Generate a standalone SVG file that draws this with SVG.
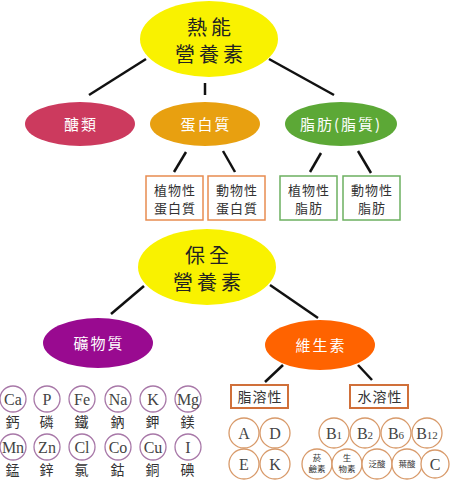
<svg xmlns="http://www.w3.org/2000/svg" width="450" height="480" viewBox="0 0 450 480">
<style>
.cjk{font-family:"Noto Sans CJK TC","Noto Sans CJK SC",sans-serif}
.big{font-size:20px;fill:#222;letter-spacing:4px}
.mid{font-size:15px;fill:#fff;letter-spacing:2px}
.sm{font-size:13px;fill:#333;letter-spacing:1px}
.lbl{font-size:14px;fill:#333;letter-spacing:1px}
.el{font-family:"Liberation Serif",serif;font-size:16px;fill:#444}
.min{fill:#fff;stroke:#a878a8;stroke-width:1.3}
.vit{fill:#fff;stroke:#d89a6a;stroke-width:1.3}
.line{stroke:#111;stroke-width:2.5;fill:none}
.tiny{font-size:8.5px;fill:#333}
</style>
<rect width="450" height="480" fill="#fff"/>
<g id="connectors" class="line">
<line x1="146" y1="59" x2="89" y2="95"/>
<line x1="205" y1="83" x2="205" y2="95"/>
<line x1="269" y1="59" x2="334" y2="95"/>
<line x1="186" y1="152" x2="174" y2="172"/>
<line x1="223" y1="151" x2="235" y2="172"/>
<line x1="321" y1="153" x2="310" y2="172"/>
<line x1="358" y1="151" x2="371" y2="173"/>
<line x1="144" y1="286" x2="111" y2="314"/>
<line x1="270" y1="285" x2="318" y2="318"/>
<line x1="283" y1="365" x2="265" y2="382"/>
<line x1="358" y1="365" x2="372" y2="380"/>
</g>
<g id="energy">
<ellipse cx="209" cy="39" rx="69" ry="38" fill="#f9f200"/>
<text class="cjk big" x="211" y="35" text-anchor="middle">熱能</text>
<text class="cjk big" x="211" y="62" text-anchor="middle">營養素</text>
</g>
<g id="carb">
<ellipse cx="80" cy="124" rx="55" ry="22" fill="#cc3a5e"/>
<text class="cjk mid" x="81" y="130" text-anchor="middle">醣類</text>
</g>
<g id="protein">
<ellipse cx="205" cy="124" rx="55" ry="22" fill="#e8a010"/>
<text class="cjk mid" x="206" y="130" text-anchor="middle">蛋白質</text>
</g>
<g id="fat">
<ellipse cx="341" cy="124" rx="56" ry="22" fill="#5ca836"/>
<text class="cjk mid" x="341" y="130" text-anchor="middle" letter-spacing="1">脂肪(脂質)</text>
</g>
<g id="plant-protein">
<rect x="146" y="176" width="57" height="44" fill="#fff" stroke="#e88c50" stroke-width="1.5"/>
<text class="cjk sm" x="175" y="195" text-anchor="middle">植物性</text>
<text class="cjk sm" x="175" y="213" text-anchor="middle">蛋白質</text>
</g>
<g id="animal-protein">
<rect x="208" y="176" width="57" height="44" fill="#fff" stroke="#e88c50" stroke-width="1.5"/>
<text class="cjk sm" x="237" y="195" text-anchor="middle">動物性</text>
<text class="cjk sm" x="237" y="213" text-anchor="middle">蛋白質</text>
</g>
<g id="plant-fat">
<rect x="280" y="176" width="57" height="44" fill="#fff" stroke="#6cb060" stroke-width="1.5"/>
<text class="cjk sm" x="309" y="195" text-anchor="middle">植物性</text>
<text class="cjk sm" x="309" y="213" text-anchor="middle">脂肪</text>
</g>
<g id="animal-fat">
<rect x="343" y="176" width="57" height="44" fill="#fff" stroke="#6cb060" stroke-width="1.5"/>
<text class="cjk sm" x="372" y="195" text-anchor="middle">動物性</text>
<text class="cjk sm" x="372" y="213" text-anchor="middle">脂肪</text>
</g>
<g id="protective">
<ellipse cx="207" cy="267" rx="69" ry="38" fill="#f9f200"/>
<text class="cjk big" x="209" y="263" text-anchor="middle">保全</text>
<text class="cjk big" x="209" y="290" text-anchor="middle">營養素</text>
</g>
<g id="mineral">
<ellipse cx="98" cy="343" rx="55" ry="25" fill="#990a90"/>
<text class="cjk mid" x="99" y="349" text-anchor="middle">礦物質</text>
</g>
<g id="vitamin">
<ellipse cx="320" cy="345" rx="55" ry="25" fill="#ff6300"/>
<text class="cjk mid" x="321" y="351" text-anchor="middle">維生素</text>
</g>
<g id="fat-soluble">
<rect x="231" y="385" width="57" height="23" fill="#fff" stroke="#d0703a" stroke-width="2"/>
<text class="cjk lbl" x="260" y="402" text-anchor="middle">脂溶性</text>
</g>
<g id="water-soluble">
<rect x="350" y="385" width="58" height="23" fill="#fff" stroke="#d0703a" stroke-width="2"/>
<text class="cjk lbl" x="380" y="402" text-anchor="middle">水溶性</text>
</g>
<g id="minerals">
<circle class="min" cx="13" cy="399" r="13"/><text class="el" x="13" y="405" text-anchor="middle">Ca</text>
<circle class="min" cx="47" cy="399" r="13"/><text class="el" x="47" y="405" text-anchor="middle">P</text>
<circle class="min" cx="82" cy="399" r="13"/><text class="el" x="82" y="405" text-anchor="middle">Fe</text>
<circle class="min" cx="118" cy="399" r="13"/><text class="el" x="118" y="405" text-anchor="middle">Na</text>
<circle class="min" cx="153" cy="399" r="13"/><text class="el" x="153" y="405" text-anchor="middle">K</text>
<circle class="min" cx="188" cy="399" r="13"/><text class="el" x="188" y="405" text-anchor="middle">Mg</text>
<circle class="min" cx="13" cy="447" r="13"/><text class="el" x="13" y="453" text-anchor="middle">Mn</text>
<circle class="min" cx="47" cy="447" r="13"/><text class="el" x="47" y="453" text-anchor="middle">Zn</text>
<circle class="min" cx="82" cy="447" r="13"/><text class="el" x="82" y="453" text-anchor="middle">Cl</text>
<circle class="min" cx="118" cy="447" r="13"/><text class="el" x="118" y="453" text-anchor="middle">Co</text>
<circle class="min" cx="153" cy="447" r="13"/><text class="el" x="153" y="453" text-anchor="middle">Cu</text>
<circle class="min" cx="188" cy="447" r="13"/><text class="el" x="188" y="453" text-anchor="middle">I</text>
<text class="cjk lbl" x="13" y="427" text-anchor="middle">鈣</text>
<text class="cjk lbl" x="47" y="427" text-anchor="middle">磷</text>
<text class="cjk lbl" x="82" y="427" text-anchor="middle">鐵</text>
<text class="cjk lbl" x="118" y="427" text-anchor="middle">鈉</text>
<text class="cjk lbl" x="153" y="427" text-anchor="middle">鉀</text>
<text class="cjk lbl" x="188" y="427" text-anchor="middle">鎂</text>
<text class="cjk lbl" x="13" y="475" text-anchor="middle">錳</text>
<text class="cjk lbl" x="47" y="475" text-anchor="middle">鋅</text>
<text class="cjk lbl" x="82" y="475" text-anchor="middle">氯</text>
<text class="cjk lbl" x="118" y="475" text-anchor="middle">鈷</text>
<text class="cjk lbl" x="153" y="475" text-anchor="middle">銅</text>
<text class="cjk lbl" x="188" y="475" text-anchor="middle">碘</text>
</g>
<g id="vitamins">
<circle class="vit" cx="244" cy="433" r="15"/><text class="el" x="244" y="439" text-anchor="middle">A</text>
<circle class="vit" cx="275" cy="433" r="15"/><text class="el" x="275" y="439" text-anchor="middle">D</text>
<circle class="vit" cx="244" cy="464" r="15"/><text class="el" x="244" y="470" text-anchor="middle">E</text>
<circle class="vit" cx="275" cy="464" r="15"/><text class="el" x="275" y="470" text-anchor="middle">K</text>
<circle class="vit" cx="334" cy="433" r="15"/><text class="el" x="334" y="439" text-anchor="middle">B<tspan font-size="11">1</tspan></text>
<circle class="vit" cx="365" cy="433" r="15"/><text class="el" x="365" y="439" text-anchor="middle">B<tspan font-size="11">2</tspan></text>
<circle class="vit" cx="396" cy="433" r="15"/><text class="el" x="396" y="439" text-anchor="middle">B<tspan font-size="11">6</tspan></text>
<circle class="vit" cx="427" cy="433" r="15"/><text class="el" x="427" y="439" text-anchor="middle">B<tspan font-size="11">12</tspan></text>
<circle class="vit" cx="317" cy="464" r="15"/>
<text class="cjk tiny" x="317" y="461" text-anchor="middle">菸</text>
<text class="cjk tiny" x="317" y="472" text-anchor="middle">鹼素</text>
<circle class="vit" cx="347" cy="464" r="15"/>
<text class="cjk tiny" x="347" y="461" text-anchor="middle">生</text>
<text class="cjk tiny" x="347" y="472" text-anchor="middle">物素</text>
<circle class="vit" cx="377" cy="464" r="15"/><text class="cjk tiny" x="377" y="467" text-anchor="middle">泛酸</text>
<circle class="vit" cx="407" cy="464" r="15"/><text class="cjk tiny" x="407" y="467" text-anchor="middle">葉酸</text>
<circle class="vit" cx="435" cy="464" r="14"/><text class="el" x="435" y="470" text-anchor="middle">C</text>
</g>
</svg>
